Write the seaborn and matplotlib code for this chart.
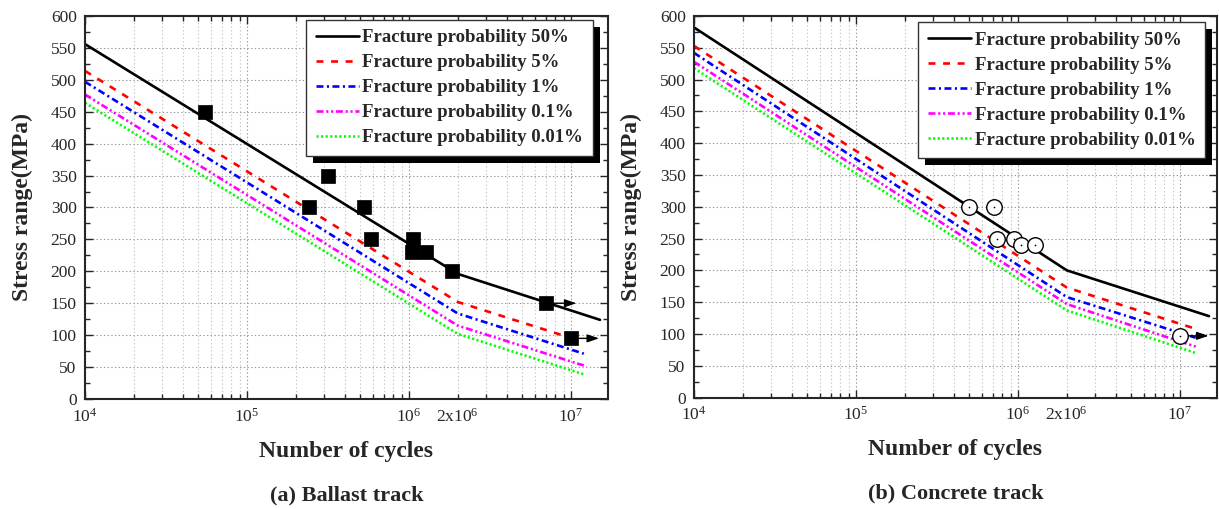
import seaborn as sns
import matplotlib.pyplot as plt
import matplotlib.ticker as mticker
import matplotlib.patheffects as pe
import pandas as pd

sns.set_style("ticks")
plt.rcParams["font.family"] = ["Liberation Serif", "DejaVu Serif"]
plt.rcParams["mathtext.fontset"] = "custom"
plt.rcParams["mathtext.rm"] = "Liberation Serif"
plt.rcParams["lines.scale_dashes"] = False

# Curvas S-N (N inicial, rodilla en 2x10^6, N final)
etiquetas = ["Fracture probability 50%", "Fracture probability 5%",
             "Fracture probability 1%", "Fracture probability 0.1%",
             "Fracture probability 0.01%"]
colores = ["#000000", "#FF0000", "#0000FF", "#FF00FF", "#00FF00"]
guiones = ["", (5, 5.5), (5, 2.5, 1.5, 2.5), (5, 2, 1.5, 2, 1.5, 2), (1.5, 1.8)]

N_inicio = 1e4
N_rodilla = 2e6

# (a) Ballast track
bal_N_fin = [1.51e7, 1.14e7, 1.2e7, 1.25e7, 1.22e7]
bal_S_inicio = [556, 514, 497, 477, 464]
bal_S_rodilla = [196, 152, 134, 115, 102]
bal_S_fin = [124, 91, 71, 51, 38]

bal_ensayo_N = [5.5e4, 2.4e5, 3.16e5, 5.3e5, 5.8e5, 1.06e6, 1.04e6, 1.28e6, 1.83e6, 7.0e6, 1.0e7]
bal_ensayo_S = [450, 300, 350, 300, 250, 250, 230, 230, 200, 150, 95]
bal_flecha_N0 = [7.0e6, 1.0e7]
bal_flecha_N1 = [1.08e7, 1.49e7]
bal_flecha_S = [150, 95]

# (b) Concrete track
con_N_fin = [1.51e7, 1.25e7, 1.25e7, 1.25e7, 1.25e7]
con_S_inicio = [582, 553, 542, 528, 518]
con_S_rodilla = [200, 173, 158, 147, 137]
con_S_fin = [128, 108, 94, 80, 70]

con_ensayo_N = [5.0e5, 7.1e5, 7.4e5, 9.5e5, 1.04e6, 1.28e6, 1.0e7]
con_ensayo_S = [300, 300, 250, 250, 240, 240, 97]
con_flecha_N0 = [1.0e7]
con_flecha_N1 = [1.5e7]
con_flecha_S = [97]

y_ticks = list(range(0, 601, 50))
x_ticks = [1e4, 1e5, 1e6, 1e7]
x_labels = [r"$\mathregular{10^{4}}$", r"$\mathregular{10^{5}}$",
            r"$\mathregular{10^{6}}$", r"$\mathregular{10^{7}}$"]


def tabla_curvas(N_fin, S_ini, S_rod, S_fin):
    filas = []
    for i, lab in enumerate(etiquetas):
        for n, s in zip([N_inicio, N_rodilla, N_fin[i]], [S_ini[i], S_rod[i], S_fin[i]]):
            filas.append({"N": n, "S": s, "curva": lab})
    return pd.DataFrame(filas)


def etiqueta_menor(x, pos):
    if abs(x - 2e6) < 1e3:
        return r"$\mathregular{2x10^{6}}$"
    return ""


def panel(ax, curvas, ens_N, ens_S, f_N0, f_N1, f_S, marcador, titulo, ancla):
    sns.lineplot(data=curvas, x="N", y="S", hue="curva", style="curva",
                 palette=dict(zip(etiquetas, colores)),
                 dashes=dict(zip(etiquetas, guiones)),
                 estimator=None, sort=False, linewidth=1.9, legend=False, ax=ax)

    for n0, n1, s in zip(f_N0, f_N1, f_S):
        ax.annotate("", xy=(n1, s), xytext=(n0, s),
                    arrowprops=dict(arrowstyle="-|>,head_length=0.5,head_width=0.17",
                                    color="black", lw=1, shrinkA=0, shrinkB=0,
                                    mutation_scale=14), zorder=4)

    if marcador == "s":
        sns.scatterplot(x=ens_N, y=ens_S, marker="s", s=88, color="black",
                        edgecolor="black", linewidth=0.5, zorder=5, ax=ax)
    else:
        sns.scatterplot(x=ens_N, y=ens_S, marker="o", s=125, facecolor="white",
                        edgecolor="black", linewidth=1.0, zorder=5, ax=ax)
        sns.scatterplot(x=ens_N, y=ens_S, marker="o", s=1.5, color="black",
                        linewidth=0, zorder=6, ax=ax)

    ax.set_xscale("log")
    ax.set_xlim(1e4, 1.69e7)
    ax.set_ylim(0, 600)
    ax.set_yticks(y_ticks)
    ax.yaxis.set_minor_locator(mticker.MultipleLocator(25))
    ax.xaxis.set_major_locator(mticker.FixedLocator(x_ticks))
    ax.xaxis.set_major_formatter(mticker.FixedFormatter(x_labels))
    ax.xaxis.set_minor_locator(mticker.LogLocator(base=10, subs=range(2, 10)))
    ax.xaxis.set_minor_formatter(mticker.FuncFormatter(etiqueta_menor))

    ax.grid(True, which="major", linestyle=":", color="#9a9a9a", linewidth=0.8)
    ax.grid(True, which="minor", axis="x", linestyle=":", color="#c8c8c8", linewidth=0.8)
    ax.set_axisbelow(True)

    ax.tick_params(which="both", direction="in", top=True, right=True,
                   labelsize=12.5, width=1, pad=6)
    ax.tick_params(which="major", length=6)
    ax.tick_params(which="minor", length=3.5)
    for sp in ax.spines.values():
        sp.set_linewidth(1.5)

    ax.set_xlabel("Number of cycles", fontsize=17, fontweight="bold", labelpad=11)
    ax.set_ylabel("Stress range(MPa)", fontsize=17, fontweight="bold", labelpad=13)
    ax.text(0.5, -0.252, titulo, transform=ax.transAxes, ha="center", va="center",
            fontsize=16, fontweight="bold")

    ley = ax.legend(handles=ax.lines[:5], labels=etiquetas, loc="upper right",
                    bbox_to_anchor=ancla, borderaxespad=0, fancybox=False,
                    framealpha=1, edgecolor="#333333", handlelength=2.3,
                    handletextpad=0.2, borderpad=0.5, labelspacing=0.42,
                    prop={"weight": "bold", "size": 13.5})
    ley.get_frame().set_linewidth(1)
    ley.get_frame().set_path_effects([
        pe.SimplePatchShadow(offset=(5, -5), shadow_rgbFace="black", alpha=1),
        pe.Normal()])
    ley.set_zorder(10)


fig = plt.figure(figsize=(12.19, 5.09), dpi=100)
ax1 = fig.add_axes([0.0697, 0.2161, 0.429, 0.7525])
ax2 = fig.add_axes([0.5693, 0.2190, 0.429, 0.7496])

panel(ax1, tabla_curvas(bal_N_fin, bal_S_inicio, bal_S_rodilla, bal_S_fin),
      bal_ensayo_N, bal_ensayo_S, bal_flecha_N0, bal_flecha_N1, bal_flecha_S,
      "s", "(a) Ballast track", (0.971, 0.9896))
panel(ax2, tabla_curvas(con_N_fin, con_S_inicio, con_S_rodilla, con_S_fin),
      con_ensayo_N, con_ensayo_S, con_flecha_N0, con_flecha_N1, con_flecha_S,
      "o", "(b) Concrete track", (0.977, 0.984))

fig.savefig("out.png", dpi=100)
